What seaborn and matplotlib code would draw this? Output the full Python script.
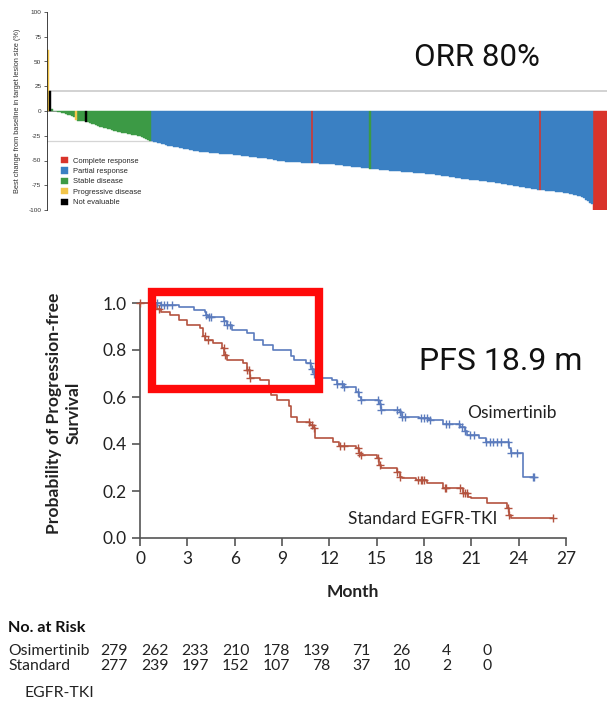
import numpy as np
import pandas as pd
import matplotlib
matplotlib.use("Agg")
import matplotlib.pyplot as plt
import seaborn as sns
from matplotlib.patches import Rectangle

# ---------------- Waterfall data (best % change, one value per patient) -------------
wf_change = [
    62, 20, 2, -0.3, -0.5, -0.8,
    -1, -2, -2.5, -3, -4, -4.5, -5, -6,
    -9,
    -10, -10, -10.5, -10.5,
    -11,
    -11, -12, -13, -13.5, -14, -15, -16, -16.5, -17, -17.5, -18, -18.5, -19, -20, -20.5, -21,
    -21.5, -22, -22, -22.5, -23, -23.5, -24, -24, -24.5, -25, -25.5, -26, -27, -28, -29, -30,
    -30.5, -31, -31.5, -32, -32.5, -33, -33.5, -34, -35,
    -35.3, -35.6, -36, -36.4, -36.8, -37.2, -37.6, -38, -38.4, -38.8, -39.2, -39.6, -40, -40.3, -40.6, -41,
    -41.2, -41.4, -41.6, -41.8, -42, -42.2, -42.4, -42.6, -42.8, -43, -43.1, -43.3, -43.5, -43.6, -43.8, -43.9, -44,
    -44.2, -44.5, -44.7, -45, -45.2, -45.5, -45.7, -46, -46.2, -46.5, -46.7, -47, -47.2, -47.4, -47.6, -47.8, -48,
    -48.4, -48.8, -49.2, -49.6, -50, -50.4, -50.7, -51,
    -51.1, -51.2, -51.3, -51.4, -51.6, -51.7, -51.8, -52,
    -52.1, -52.2, -52.3, -52.4, -52.5, -52.6, -52.7, -52.8, -53, -53.1, -53.2, -53.3, -53.4, -53.5, -53.7, -53.8, -54,
    -54.2, -54.4, -54.7, -54.9, -55.1, -55.4, -55.6, -55.8, -56.1, -56.3, -56.5, -56.8, -57, -57.2, -57.5, -57.7, -58,
    -58.2, -58.4, -58.6, -58.8, -59, -59.2, -59.4, -59.6, -59.8, -60, -60.2, -60.4, -60.6, -60.7, -60.9, -61,
    -61.2, -61.4, -61.5, -61.7, -61.9, -62.1, -62.3, -62.4, -62.6, -62.8, -63, -63.1, -63.3, -63.5, -63.6, -63.8, -64,
    -64.3, -64.6, -64.9, -65.2, -65.5, -65.8, -66.1, -66.4, -66.7, -67, -67.3, -67.6, -67.9, -68.2, -68.5, -68.8, -69,
    -69.2, -69.5, -69.7, -70, -70.2, -70.5, -70.7, -71, -71.2, -71.5, -71.7, -72, -72.2, -72.5, -72.7, -73,
    -73.3, -73.6, -74, -74.3, -74.7, -75, -75.4, -75.7, -76.1, -76.4, -76.8, -77.1, -77.5, -77.8, -78.2, -78.6, -79,
    -79.2, -79.5, -80, -80, -80.2, -80.4, -80.6, -80.8, -81, -81.3, -81.5, -81.7, -82, -82.2, -82.5, -82.7, -83,
    -83.5, -84, -84.5, -85, -85.5, -86, -87, -88, -89.5, -91, -92.5, -94,
    -100, -100, -100, -100, -100, -100, -100,
]
# response category runs in waterfall order (category, number of bars)
wf_response_runs = [
    ("Progressive disease", 1), ("Not evaluable", 1), ("Stable disease", 12),
    ("Progressive disease", 1), ("Stable disease", 4), ("Not evaluable", 1),
    ("Stable disease", 32), ("Partial response", 80), ("Complete response", 1),
    ("Partial response", 28), ("Stable disease", 1), ("Partial response", 84),
    ("Complete response", 1), ("Partial response", 26), ("Complete response", 7),
]
wf_categories = ["Complete response", "Partial response", "Stable disease",
                 "Progressive disease", "Not evaluable"]
wf_colors = ["#d9342b", "#3a80c3", "#3c9a45", "#f2c54a", "#000000"]
wf_yticks = [100, 75, 50, 25, 0, -25, -50, -75, -100]

# ---------------- Kaplan-Meier data -------------------------------------------------
osi_t = [0, 1.3, 2.5, 3.4, 4.1, 4.2, 4.3, 5.3, 5.5, 5.8, 6.8, 7.2, 7.8, 8.45, 9.6, 9.75,
         10.5, 10.85, 11.0, 11.4, 12.2, 12.5, 12.9, 13.7, 13.9, 14.0, 15.15, 15.25, 16.5,
         16.6, 17.7, 18.3, 19.2, 20.3, 20.6, 20.75, 21.5, 21.9, 23.4, 23.5, 24.3, 25.0]
osi_s = [1.0, 0.993, 0.984, 0.97, 0.963, 0.95, 0.942, 0.925, 0.906, 0.885, 0.871, 0.843,
         0.821, 0.80, 0.775, 0.757, 0.743, 0.72, 0.70, 0.68, 0.672, 0.655, 0.644, 0.623,
         0.60, 0.587, 0.57, 0.545, 0.537, 0.516, 0.51, 0.502, 0.485, 0.474, 0.455, 0.438,
         0.424, 0.41, 0.385, 0.36, 0.261, 0.261]
osi_cens = [1.1, 1.3, 1.5, 1.7, 2.0, 4.2, 4.4, 4.5, 5.3, 5.5, 5.7, 10.8, 10.9, 11.0, 12.5,
            12.8, 12.9, 13.8, 14.0, 15.1, 15.2, 15.3, 16.3, 16.5, 16.6, 16.8, 17.8, 18.0,
            18.2, 18.4, 19.4, 19.6, 20.2, 20.4, 20.6, 20.9, 21.2, 21.9, 22.2, 22.4, 22.6,
            22.9, 23.3, 23.5, 23.9, 24.9, 25.0]

std_t = [0, 1.1, 1.3, 1.9, 2.5, 3.0, 3.8, 4.0, 4.15, 4.65, 5.2, 5.35, 5.5, 6.55, 6.75, 7.0,
         7.6, 8.2, 8.3, 8.7, 9.45, 9.55, 9.95, 10.8, 10.95, 11.1, 12.25, 12.6, 13.7, 13.9,
         14.0, 15.0, 15.15, 15.25, 16.3, 16.5, 16.6, 17.5, 18.2, 19.2, 20.5, 20.8, 20.95,
         22.0, 23.25, 23.4, 23.5, 26.2]
std_s = [1.0, 0.975, 0.963, 0.949, 0.928, 0.906, 0.892, 0.86, 0.843, 0.828, 0.807, 0.78,
         0.757, 0.743, 0.715, 0.68, 0.672, 0.62, 0.609, 0.587, 0.56, 0.516, 0.495, 0.481,
         0.47, 0.424, 0.41, 0.39, 0.382, 0.36, 0.353, 0.339, 0.31, 0.297, 0.282, 0.26, 0.254,
         0.247, 0.233, 0.211, 0.19, 0.175, 0.169, 0.148, 0.126, 0.10, 0.084, 0.084]
std_cens = [0.0, 1.2, 4.1, 4.3, 5.3, 5.4, 6.8, 6.9, 7.0, 10.7, 10.9, 11.0, 12.7, 12.9, 13.8,
            13.9, 14.0, 15.1, 15.2, 16.3, 16.5, 17.6, 17.8, 17.9, 18.0, 19.3, 19.4, 20.3,
            20.5, 20.6, 20.7, 23.3, 23.4, 26.2]

km_xticks = [0, 3, 6, 9, 12, 15, 18, 21, 24, 27]
km_yticks = [0.0, 0.2, 0.4, 0.6, 0.8, 1.0]
risk_osi = [279, 262, 233, 210, 178, 139, 71, 26, 4, 0]
risk_std = [277, 239, 197, 152, 107, 78, 37, 10, 2, 0]
osi_color = "#5b7bbd"
std_color = "#b4533f"

# ---------------- Figure -------------------------------------------------------------
sns.set_theme(style="white")
plt.rcParams["font.family"] = ["Lato", "DejaVu Sans"]

W, H = 607, 702
fig = plt.figure(figsize=(W / 100, H / 100), dpi=100)
fig.patch.set_facecolor("white")


def fx(x):
    return x / W


def fy(y):
    return 1 - y / H


SMALL = ["Liberation Sans", "DejaVu Sans"]

# ---- Waterfall -----
ax1 = fig.add_axes([fx(47), fy(210), (W - 47) / W, 198 / H])
resp = []
for cat, n in wf_response_runs:
    resp += [cat] * n
assert len(resp) == len(wf_change)
wf_df = pd.DataFrame({"patient": np.arange(len(wf_change)), "change": wf_change,
                      "response": resp})
ax1.axhline(20, color="#cfcfcf", lw=1.3, zorder=0)
ax1.axhline(-30, color="#d5d5d5", lw=0.9, zorder=0)
ax1.axhline(0, color="#9a9a9a", lw=0.7, zorder=0)
sns.barplot(data=wf_df, x="patient", y="change", hue="response", hue_order=wf_categories,
            palette=dict(zip(wf_categories, wf_colors)), dodge=False, width=1.0,
            saturation=1, linewidth=0, ax=ax1)
for p in ax1.patches:
    p.set_edgecolor(p.get_facecolor())
    p.set_linewidth(0.3)
ax1.set_xlim(-0.5, len(wf_change) - 0.5)
ax1.set_ylim(-100, 100)
ax1.set_yticks(wf_yticks)
ax1.set_yticklabels([str(v) for v in wf_yticks], fontsize=4.6, color="#333333",
                    family=SMALL)
ax1.set_xticks([])
ax1.set_xlabel("")
ax1.set_ylabel("")
for s in ["top", "right", "bottom"]:
    ax1.spines[s].set_visible(False)
ax1.spines["left"].set_color("#222222")
ax1.spines["left"].set_linewidth(0.6)
ax1.tick_params(axis="y", length=2, width=0.5, pad=2, left=True, color="#222222")
ax1.set_facecolor("none")
handles, labels = ax1.get_legend_handles_labels()
ax1.legend(handles, labels, loc="lower left", bbox_to_anchor=(0.018, 0.0),
           frameon=False, handlelength=0.9, handleheight=0.9,
           labelspacing=0.36, handletextpad=0.7, borderpad=0,
           prop={"family": SMALL, "size": 5.4})
fig.text(fx(18), fy(111), "Best change from baseline in target lesion size (%)",
         rotation=90, ha="center", va="center", fontsize=5.3, color="#333333",
         family=SMALL)
fig.text(fx(477), fy(58), "ORR 80%", ha="center", va="center", fontsize=22.5,
         family=["Roboto", "DejaVu Sans"], color="#111111")

# ---- Kaplan-Meier -----
ax2 = fig.add_axes([fx(140), fy(538), 426 / W, 235 / H])
for t, s, cens, col in [(osi_t, osi_s, osi_cens, osi_color),
                        (std_t, std_s, std_cens, std_color)]:
    t = np.array(t)
    s = np.array(s)
    sns.lineplot(x=t, y=s, drawstyle="steps-post", color=col, lw=1.2,
                 estimator=None, sort=False, ax=ax2, clip_on=False)
    c = np.array(cens)
    cy = s[np.searchsorted(t, c, side="right") - 1]
    sns.scatterplot(x=c, y=cy, marker="+", s=38, color=col, linewidth=1.0,
                    ax=ax2, clip_on=False, zorder=3)
ax2.set_xlim(0, 27)
ax2.set_ylim(0, 1.0)
ax2.set_xticks(km_xticks)
ax2.set_xticklabels([str(v) for v in km_xticks])
ax2.set_yticks(km_yticks)
ax2.set_yticklabels([f"{v:.1f}" for v in km_yticks])
for s in ["top", "right"]:
    ax2.spines[s].set_visible(False)
for s in ["left", "bottom"]:
    ax2.spines[s].set_color("#555555")
    ax2.spines[s].set_linewidth(1.2)
ax2.tick_params(axis="both", direction="out", length=6, width=1.2, color="#555555",
                labelsize=12.5, labelcolor="#222222", pad=3.5, bottom=True, left=True)
ax2.set_xlabel("")
ax2.set_ylabel("")
ax2.set_facecolor("none")

ax2.add_patch(Rectangle((0.74, 0.633), 11.33 - 0.74, 1.046 - 0.633, fill=False,
                        edgecolor="#ff0a0a", lw=6, clip_on=False, zorder=5))

fig.text(fx(64), fy(413), "Probability of Progression-free\nSurvival", rotation=90,
         ha="center", va="center", multialignment="center", fontsize=12.6,
         fontweight="bold", color="#222222", linespacing=1.3)
fig.text(fx(353), fy(592), "Month", ha="center", va="center", fontsize=12.5,
         fontweight="bold", color="#222222")
fig.text(fx(501), fy(362), "PFS 18.9 m", ha="center", va="center", fontsize=23,
         family=["Roboto", "DejaVu Sans"], color="#111111")
fig.text(fx(512), fy(413), "Osimertinib", ha="center", va="center", fontsize=12.5,
         color="#222222")
fig.text(fx(423), fy(519), "Standard EGFR-TKI", ha="center", va="center", fontsize=12.5,
         color="#222222")

# ---- Risk table -----
RT = 11.3
fig.text(fx(8), fy(628), "No. at Risk", ha="left", va="center", fontsize=11.6,
         fontweight="bold", color="#111111")
fig.text(fx(8), fy(651), "Osimertinib", ha="left", va="center", fontsize=RT,
         color="#222222")
fig.text(fx(8), fy(666), "Standard", ha="left", va="center", fontsize=RT,
         color="#222222")
fig.text(fx(25), fy(693), "EGFR-TKI", ha="left", va="center", fontsize=RT,
         color="#222222")
for k, (a, b) in enumerate(zip(risk_osi, risk_std)):
    xr = 128 + 40.4 * k
    fig.text(fx(xr), fy(651), str(a), ha="right", va="center", fontsize=RT,
             color="#222222")
    fig.text(fx(xr), fy(666), str(b), ha="right", va="center", fontsize=RT,
             color="#222222")

fig.savefig("out.png", dpi=100, facecolor="white")
